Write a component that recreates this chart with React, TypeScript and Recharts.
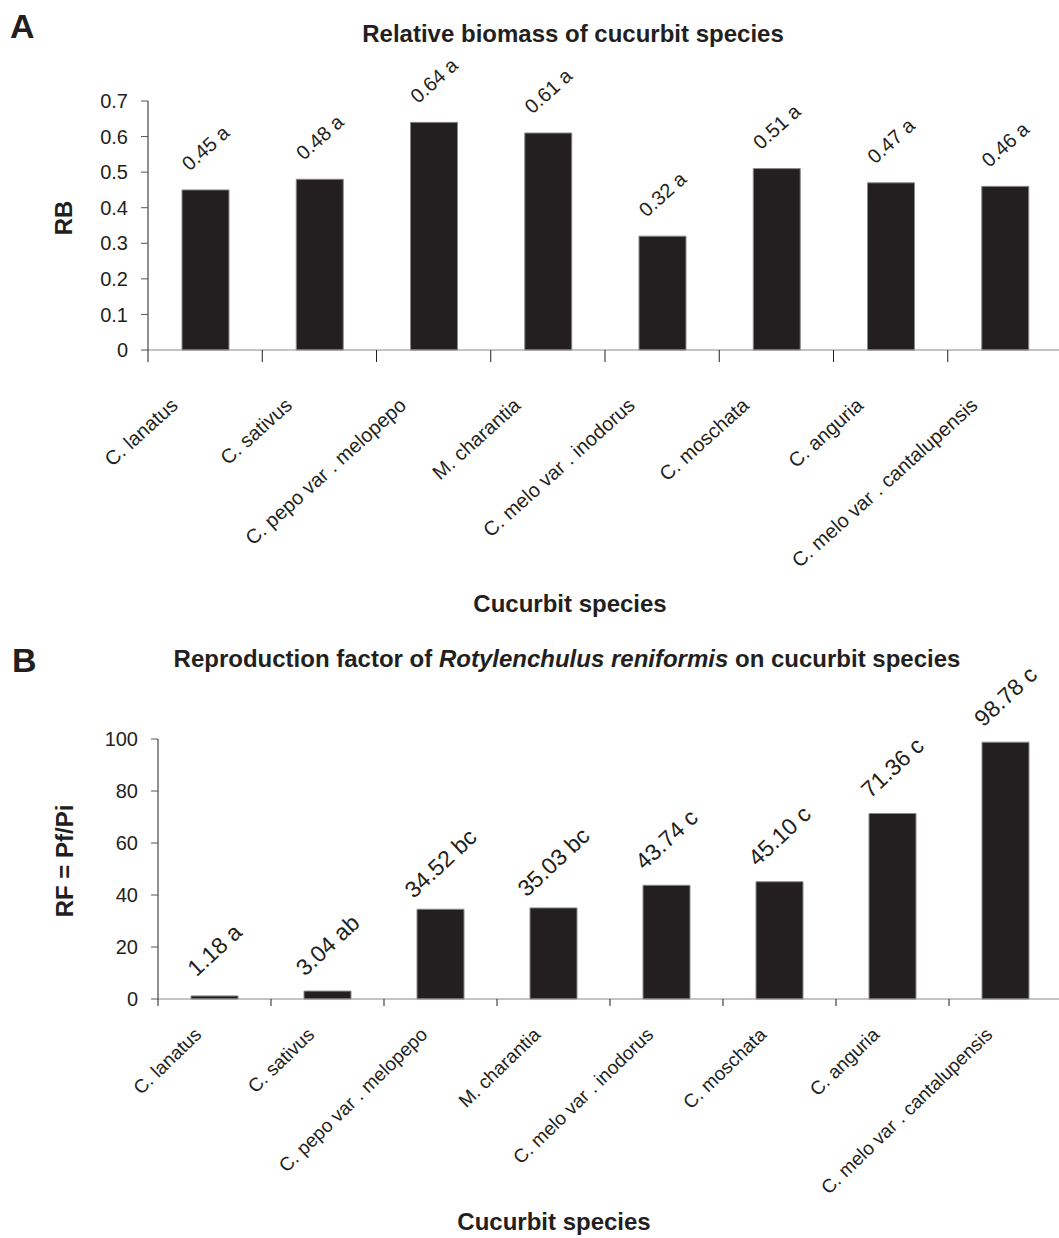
import { BarChart, Bar, XAxis, YAxis, LabelList } from "recharts";

// cucurbit species (x categories, same order in both panels)
const species = [
  "C. lanatus",
  "C. sativus",
  "C. pepo var . melopepo",
  "M. charantia",
  "C. melo var . inodorus",
  "C. moschata",
  "C. anguria",
  "C. melo var . cantalupensis",
];

// panel A: relative biomass
const rbValues = [0.45, 0.48, 0.64, 0.61, 0.32, 0.51, 0.47, 0.46];
const rbLetters = ["a", "a", "a", "a", "a", "a", "a", "a"];
const rbTicks = [0, 0.1, 0.2, 0.3, 0.4, 0.5, 0.6, 0.7];

// panel B: reproduction factor
const rfValues = [1.18, 3.04, 34.52, 35.03, 43.74, 45.1, 71.36, 98.78];
const rfLetters = ["a", "ab", "bc", "bc", "c", "c", "c", "c"];
const rfTicks = [0, 20, 40, 60, 80, 100];

const INK = "#231f20";
const FONT = '"Liberation Sans", Arial, Helvetica, sans-serif';

const rbData = species.map((name, i) => ({
  name,
  value: rbValues[i],
  tag: `${rbValues[i].toFixed(2)} ${rbLetters[i]}`,
}));
const rfData = species.map((name, i) => ({
  name,
  value: rfValues[i],
  tag: `${rfValues[i].toFixed(2)} ${rfLetters[i]}`,
}));

const CHART_W = 1062;

function makeTick(band: number, angle: number, dx: number, dy: number, size: number, tickLen: number) {
  return (props: any) => {
    const { x, y, payload } = props;
    const tx = x + dx;
    const ty = y + dy;
    return (
      <g>
        <line x1={x - band / 2} x2={x - band / 2} y1={y} y2={y + tickLen} stroke={INK} strokeWidth={1} />
        <text
          x={tx}
          y={ty}
          transform={`rotate(${angle} ${tx} ${ty})`}
          textAnchor="end"
          fontSize={size}
          fontFamily={FONT}
          fill={INK}
        >
          {payload.value}
        </text>
      </g>
    );
  };
}

function makeValueLabel(angle: number, lift: number, size: number, shift: number) {
  return (props: any) => {
    const { x, y, width, value } = props;
    const cx = Number(x) + Number(width) / 2 + shift;
    const cy = Number(y) - lift;
    return (
      <text
        x={cx}
        y={cy}
        transform={`rotate(${angle} ${cx} ${cy})`}
        textAnchor="middle"
        dominantBaseline="central"
        fontSize={size}
        fontFamily={FONT}
        fill={INK}
      >
        {value}
      </text>
    );
  };
}

export default function App() {
  const bandA = (CHART_W - 148) / species.length;
  const bandB = (CHART_W - 158) / species.length;

  return (
    <div
      style={{
        position: "absolute",
        left: 0,
        top: 0,
        width: 1059,
        height: 1238,
        overflow: "hidden",
        background: "#fff",
        fontFamily: FONT,
      }}
    >
      <div style={{ position: "absolute", left: 0, top: 0 }}>
        <BarChart width={CHART_W} height={620} data={rbData} margin={{ top: 101, right: 0, left: 0, bottom: 0 }}>
          <XAxis
            dataKey="name"
            interval={0}
            height={270}
            tickSize={0}
            tickMargin={0}
            axisLine={{ stroke: "#8a8a8a" }}
            tickLine={false}
            tick={makeTick(bandA, -42, -26, 57, 20, 12)}
          />
          <YAxis
            width={148}
            domain={[0, 0.7]}
            ticks={rbTicks}
            interval={0}
            tickSize={7}
            tickMargin={13}
            axisLine={{ stroke: INK }}
            tickLine={{ stroke: "#555" }}
            tick={{ fontSize: 20, fill: INK, fontFamily: FONT }}
            tickFormatter={(v: number) => (v === 0 ? "0" : v.toFixed(1))}
          />
          <Bar dataKey="value" barSize={47} fill={INK} stroke="#8a8a8a" strokeWidth={1} isAnimationActive={false}>
            <LabelList dataKey="tag" content={makeValueLabel(-42, 42, 20, 0)} />
          </Bar>
        </BarChart>
      </div>

      <div style={{ position: "absolute", left: 0, top: 620 }}>
        <BarChart width={CHART_W} height={618} data={rfData} margin={{ top: 119, right: 0, left: 0, bottom: 0 }}>
          <XAxis
            dataKey="name"
            interval={0}
            height={239}
            tickSize={0}
            tickMargin={0}
            axisLine={{ stroke: "#8a8a8a" }}
            tickLine={false}
            tick={makeTick(bandB, -44, -12, 37, 19, 7)}
          />
          <YAxis
            width={158}
            domain={[0, 100]}
            ticks={rfTicks}
            interval={0}
            tickSize={7}
            tickMargin={13}
            axisLine={{ stroke: INK }}
            tickLine={{ stroke: "#555" }}
            tick={{ fontSize: 20, fill: INK, fontFamily: FONT }}
          />
          <Bar dataKey="value" barSize={47} fill={INK} stroke="#8a8a8a" strokeWidth={1} isAnimationActive={false}>
            <LabelList dataKey="tag" content={makeValueLabel(-43, 46, 23, 0)} />
          </Bar>
        </BarChart>
      </div>

      {/* titles, panel letters and axis titles */}
      <svg
        width={1059}
        height={1238}
        style={{ position: "absolute", left: 0, top: 0, pointerEvents: "none" }}
        fontFamily={FONT}
        fill={INK}
      >
        <text x={10} y={38} fontSize={34} fontWeight="bold">A</text>
        <text x={573} y={42} fontSize={24} fontWeight="bold" textAnchor="middle">
          Relative biomass of cucurbit species
        </text>
        <text x={72} y={218} fontSize={24} fontWeight="bold" textAnchor="middle" transform="rotate(-90 72 218)">
          RB
        </text>
        <text x={570} y={612} fontSize={24} fontWeight="bold" textAnchor="middle">
          Cucurbit species
        </text>

        <text x={12} y={672} fontSize={34} fontWeight="bold">B</text>
        <text x={567} y={667} fontSize={24} fontWeight="bold" textAnchor="middle">
          Reproduction factor of <tspan fontStyle="italic">Rotylenchulus reniformis</tspan> on cucurbit species
        </text>
        <text x={73} y={861} fontSize={24} fontWeight="bold" textAnchor="middle" transform="rotate(-90 73 861)">
          RF = Pf/Pi
        </text>
        <text x={554} y={1230} fontSize={24} fontWeight="bold" textAnchor="middle">
          Cucurbit species
        </text>
      </svg>
    </div>
  );
}
